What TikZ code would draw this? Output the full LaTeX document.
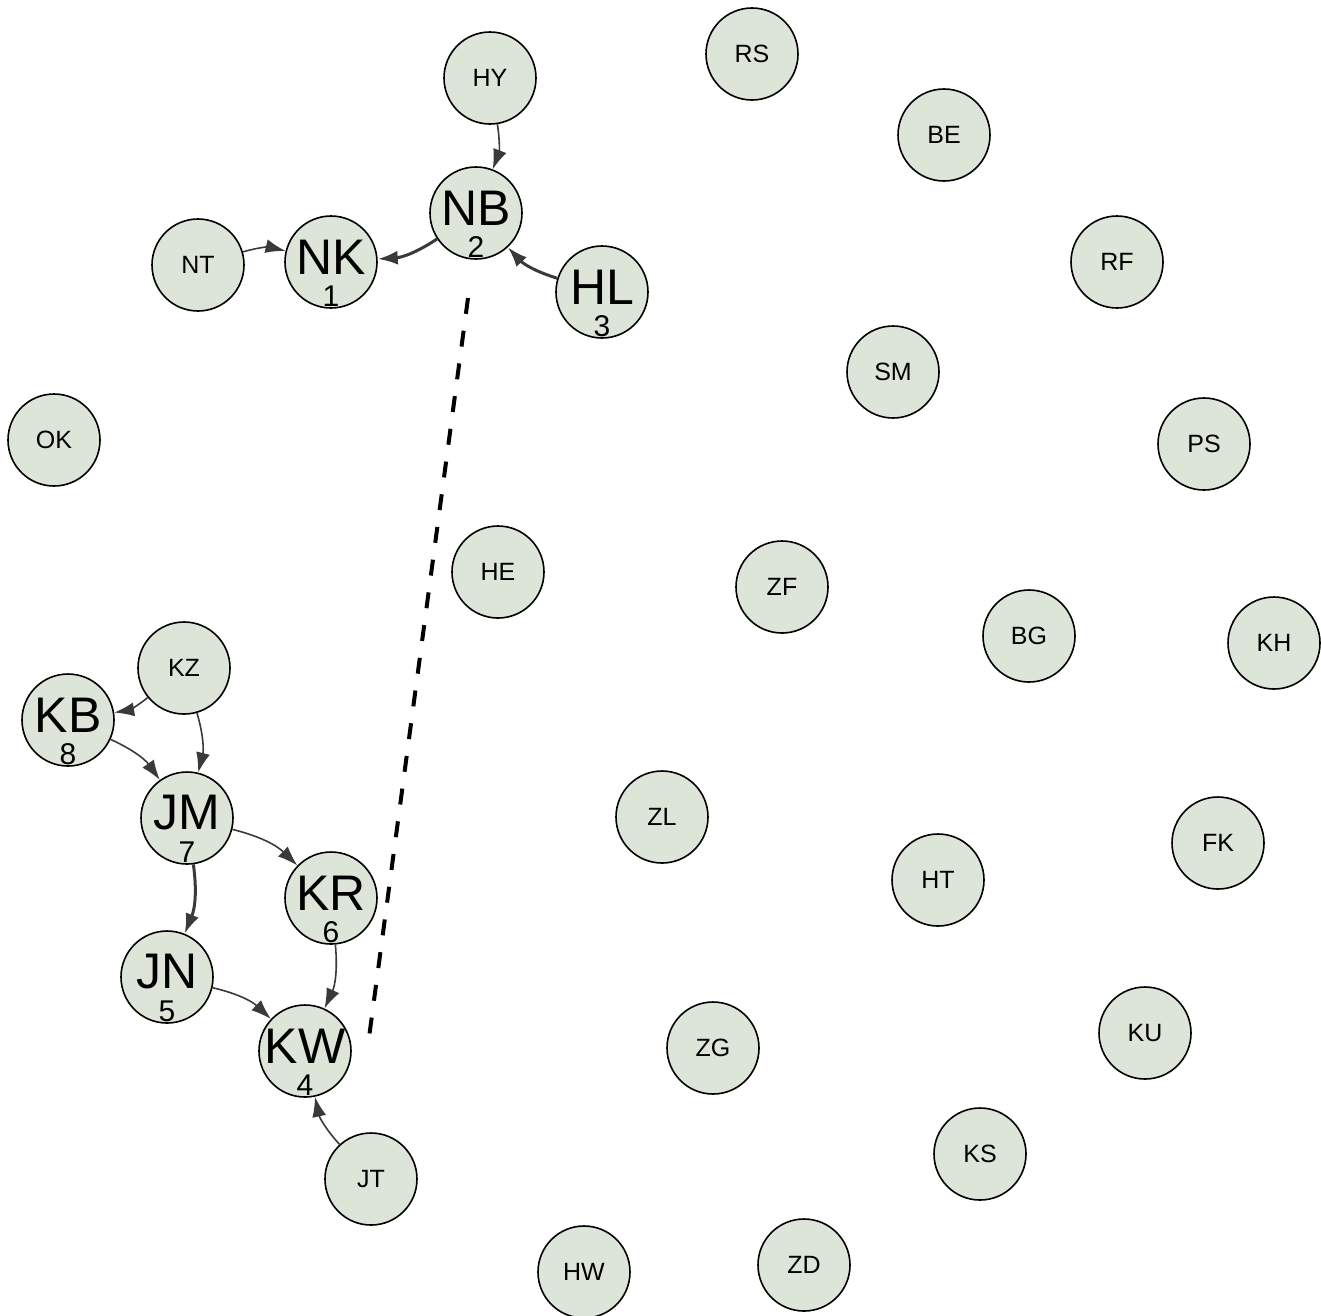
\documentclass[tikz,border=0pt]{standalone}
\usepackage{fontspec}
\setmainfont{Liberation Sans}
\usetikzlibrary{arrows.meta}
\definecolor{nodefill}{HTML}{DDE5D9}
\definecolor{edgegray}{HTML}{3A3A3A}
\begin{document}
\begin{tikzpicture}[x=1pt,y=-1pt,>={Latex[length=20pt,width=14pt]}]
 \tikzstyle{person}=[circle,draw=black,line width=1.6pt,fill=nodefill,minimum size=92pt,inner sep=0pt,font=\fontsize{25}{25}\selectfont]
 \tikzstyle{ranked}=[person,label={[font=\fontsize{50}{50}\selectfont,inner sep=0pt,yshift=5pt]center:#1}]
 \tikzstyle{rank}=[label={[font=\fontsize{30}{30}\selectfont,inner sep=0pt,yshift=-34pt]center:#1}]
 \tikzstyle{tie}=[->,draw=edgegray,line width=1.6pt,bend left=15]
 \tikzstyle{strongtie}=[tie,line width=3pt]
 \useasboundingbox (0,0) rectangle (1321,1315);

 % ranked nodes
 \node (NK) at (331,262) [ranked=NK,rank=1] {};
 \node (NB) at (476,213) [ranked=NB,rank=2] {};
 \node (HL) at (602,292) [ranked=HL,rank=3] {};
 \node (KW) at (305,1051) [ranked=KW,rank=4] {};
 \node (JN) at (167,977) [ranked=JN,rank=5] {};
 \node (KR) at (331,898) [ranked=KR,rank=6] {};
 \node (JM) at (187,818) [ranked=JM,rank=7] {};
 \node (KB) at (68,720) [ranked=KB,rank=8] {};

 % other nodes
 \node (HY) at (490,78) [person] {HY};
 \node (RS) at (752,54) [person] {RS};
 \node (BE) at (944,135) [person] {BE};
 \node (NT) at (198,265) [person] {NT};
 \node (RF) at (1117,262) [person] {RF};
 \node (SM) at (893,372) [person] {SM};
 \node (PS) at (1204,444) [person] {PS};
 \node (OK) at (54,440) [person] {OK};
 \node (HE) at (498,572) [person] {HE};
 \node (ZF) at (782,587) [person] {ZF};
 \node (BG) at (1029,636) [person] {BG};
 \node (KH) at (1274,643) [person] {KH};
 \node (KZ) at (184,668) [person] {KZ};
 \node (ZL) at (662,817) [person] {ZL};
 \node (FK) at (1218,843) [person] {FK};
 \node (HT) at (938,880) [person] {HT};
 \node (KU) at (1145,1033) [person] {KU};
 \node (ZG) at (713,1048) [person] {ZG};
 \node (KS) at (980,1154) [person] {KS};
 \node (JT) at (371,1179) [person] {JT};
 \node (HW) at (584,1272) [person] {HW};
 \node (ZD) at (804,1265) [person] {ZD};

 \coordinate (cutA) at (468,298);
 \coordinate (cutB) at (368,1045);

 \draw [tie] (HY) to (NB);
 \draw [tie] (NT) to (NK);
 \draw [strongtie] (NB) to (NK);
 \draw [strongtie] (HL) to (NB);
 \draw [tie] (KZ) to (KB);
 \draw [tie] (KZ) to (JM);
 \draw [tie] (KB) to (JM);
 \draw [tie] (JM) to (KR);
 \draw [strongtie] (JM) to (JN);
 \draw [tie] (KR) to (KW);
 \draw [tie] (JN) to (KW);
 \draw [tie] (JT) to (KW);

 \draw [line width=4pt,dash pattern=on 16pt off 17pt] (cutA) -- (cutB);

\end{tikzpicture}
\end{document}
